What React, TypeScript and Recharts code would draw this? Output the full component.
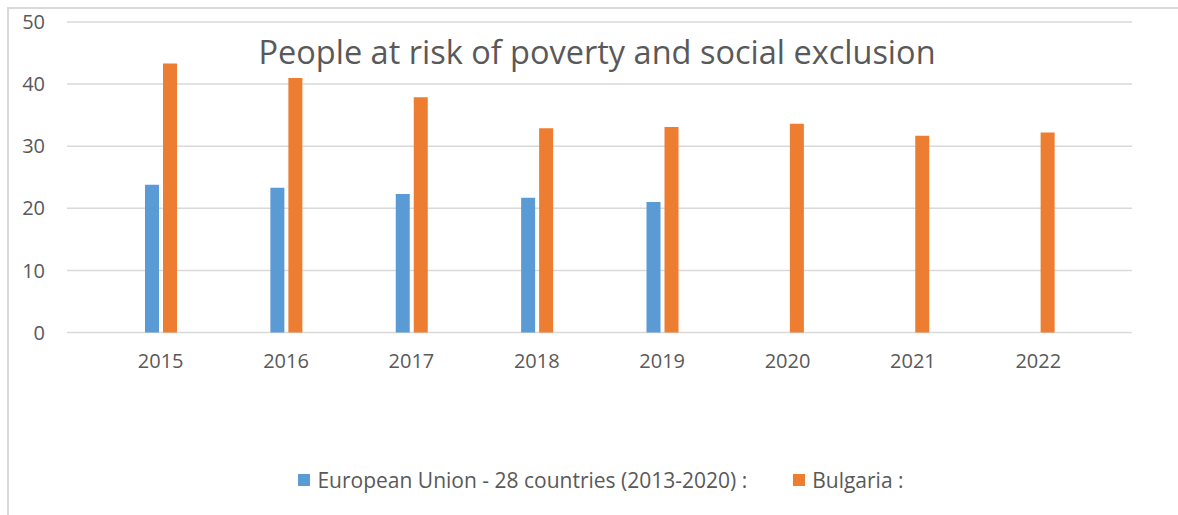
import React from "react";
import { Bar, BarChart, CartesianGrid, Legend, XAxis, YAxis } from "recharts";

const years = ["2015", "2016", "2017", "2018", "2019", "2020", "2021", "2022"];
const euValues = [23.8, 23.3, 22.3, 21.7, 21.0, null, null, null];
const bgValues = [43.3, 41.0, 37.9, 32.9, 33.1, 33.6, 31.7, 32.2];
const yTicks = [0, 10, 20, 30, 40, 50];

const EU_NAME = "European Union - 28 countries (2013-2020) :";
const BG_NAME = "Bulgaria :";
const seriesOrder = ["eu", "bg"];

const data = years.map((year, i) => ({
  year,
  eu: euValues[i],
  bg: bgValues[i],
}));

const FONT = "'Open Sans', 'Noto Sans', sans-serif";
const TEXT = "#595959";

const LegendContent = ({ payload }: any) => {
  const items = [...(payload || [])].sort(
    (a: any, b: any) => seriesOrder.indexOf(a.dataKey) - seriesOrder.indexOf(b.dataKey)
  );
  return (
    <div
      style={{
        display: "flex",
        justifyContent: "center",
        alignItems: "center",
        height: 30,
        paddingLeft: 24,
        fontFamily: FONT,
        fontSize: 21,
        color: TEXT,
      }}
    >
      {items.map((entry: any, i: number) => (
        <div
          key={i}
          style={{ display: "flex", alignItems: "center", marginLeft: i ? 46 : 0 }}
        >
          <span
            style={{
              width: 12,
              height: 12,
              background: entry.color,
              display: "inline-block",
              marginRight: 7,
            }}
          />
          <span>{entry.value}</span>
        </div>
      ))}
    </div>
  );
};

export default function App() {
  return (
    <div
      style={{
        position: "absolute",
        left: 0,
        top: 0,
        width: 1178,
        height: 515,
        background: "#fff",
      }}
    >
      <div
        style={{
          position: "absolute",
          left: 7,
          top: 7,
          width: 1171,
          height: 506,
          borderLeft: "2px solid #d9d9d9",
          borderTop: "2px solid #d9d9d9",
        }}
      />
      <BarChart
        width={1178}
        height={515}
        data={data}
        margin={{ top: 22, right: 46, left: 0, bottom: 20 }}
        barSize={14}
        barGap={4}
        style={{ position: "absolute", left: 0, top: 0 }}
      >
        <CartesianGrid vertical={false} stroke="#d9d9d9" strokeWidth={1.5} />
        <XAxis
          dataKey="year"
          axisLine={false}
          tickLine={false}
          tickSize={0}
          tickMargin={21}
          height={132.5}
          padding={{ left: 31, right: 31 }}
          tick={{ fill: TEXT, fontSize: 20, fontFamily: FONT }}
        />
        <YAxis
          domain={[0, 50]}
          ticks={yTicks}
          width={67}
          axisLine={false}
          tickLine={false}
          tickSize={0}
          tickMargin={22}
          tick={{ fill: TEXT, fontSize: 20, fontFamily: FONT }}
        />
        <Legend
          verticalAlign="bottom"
          height={30}
          wrapperStyle={{ left: 0, width: 1178 }}
          content={<LegendContent />}
        />
        <Bar dataKey="eu" name={EU_NAME} fill="#5b9bd5" isAnimationActive={false} />
        <Bar dataKey="bg" name={BG_NAME} fill="#ed7d31" isAnimationActive={false} />
      </BarChart>
      <div
        style={{
          position: "absolute",
          left: 0,
          top: 30,
          width: 1194,
          textAlign: "center",
          fontFamily: FONT,
          fontSize: 32.5,
          color: TEXT,
          lineHeight: "44px",
        }}
      >
        People at risk of poverty and social exclusion
      </div>
    </div>
  );
}
